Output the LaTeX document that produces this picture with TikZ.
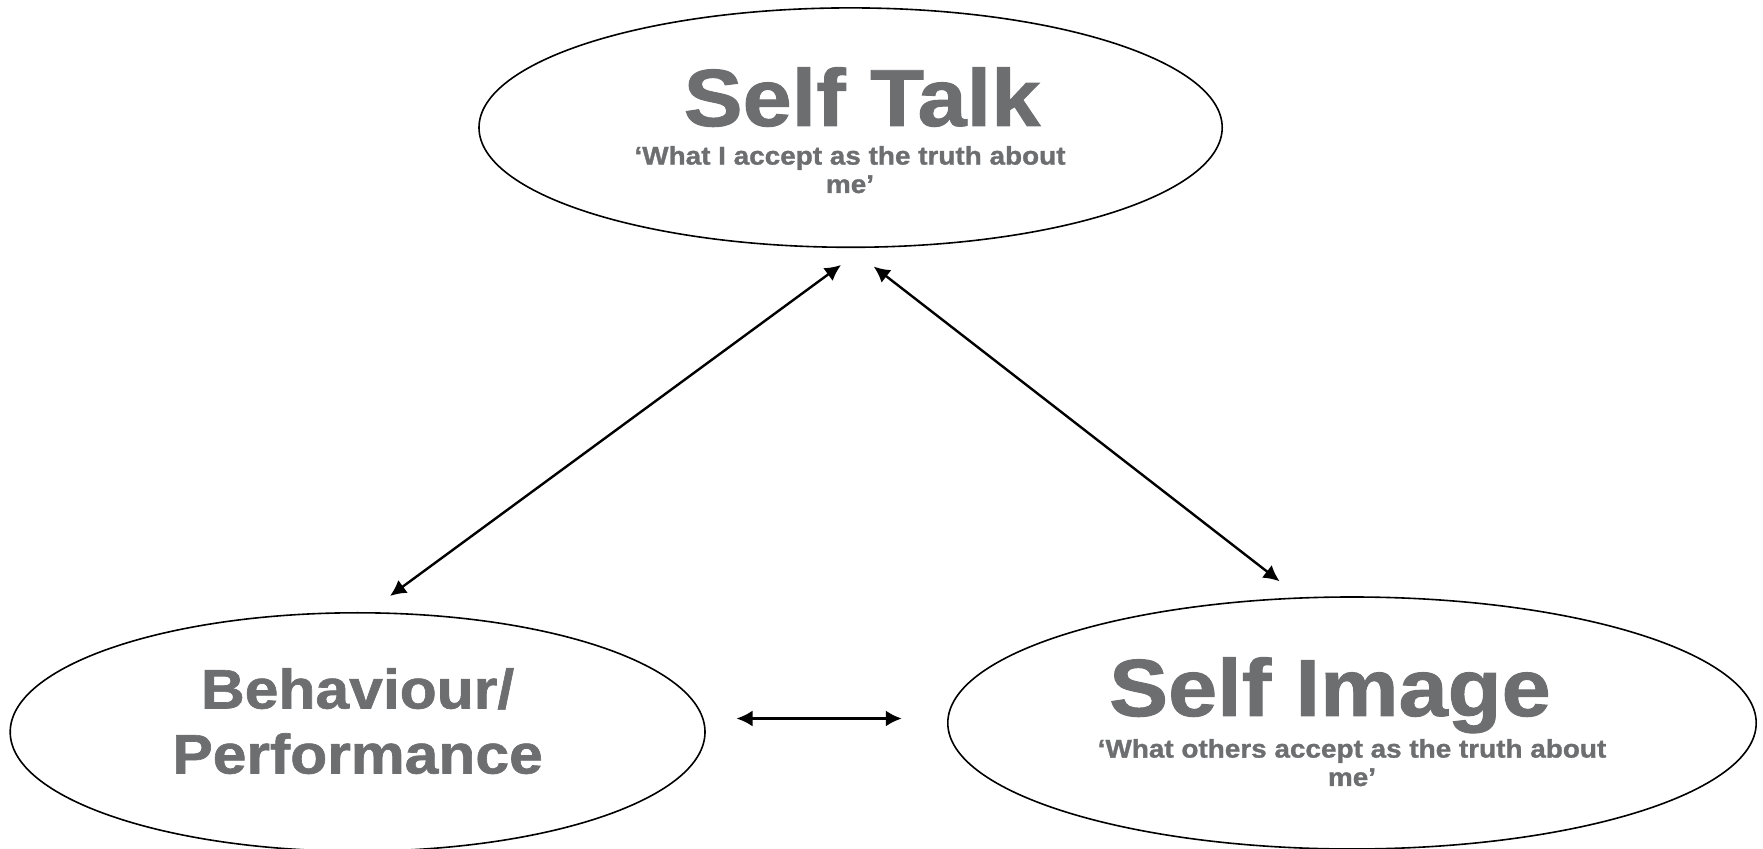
\documentclass[tikz,border=0pt]{standalone}
\usepackage{fontspec}
\setmainfont{Liberation Sans}
\newfontfamily\heavyfont{Liberation Sans Bold}[FakeStretch=1.09,FakeBold=1.2]
\usetikzlibrary{shapes.geometric,arrows.meta}
\definecolor{labelgray}{RGB}{108,110,112}
\tikzset{
  bubble/.style={draw, ellipse, line width=0.8pt, inner sep=0pt, outer sep=0pt},
  title/.style={font=\heavyfont\fontsize{40.5}{44}\selectfont, text=labelgray, anchor=base, inner sep=0pt},
  subtitle/.style={font=\heavyfont\fontsize{12.8}{14.2}\selectfont, text=labelgray, align=center, anchor=base, inner sep=0pt},
  link/.style={draw, line width=1.2pt, <->, >={Latex[length=8pt,width=8pt]}}
}
\begin{document}
\begin{tikzpicture}[x=0.5pt,y=-0.5pt]
\useasboundingbox (0,0) rectangle (1763,849);

\node[bubble, minimum width=371.6pt, minimum height=119.7pt] (talk) at (850.6,127.6) {};
\node[bubble, minimum width=347.4pt, minimum height=119.2pt] (behav) at (357.6,732) {};
\node[bubble, minimum width=404.2pt, minimum height=126pt] (image) at (1352,723) {};

\node[title] (talkname) at (862,126) {Self Talk};
\node[subtitle] (talknote) at (850,193) {‘What I accept as the truth about\\me’};
\node[title, font=\heavyfont\fontsize{27.8}{32.5}\selectfont, align=center] (behavname) at (357.6,773.5) {Behaviour/\\Performance};
\node[title] (imagename) at (1330,716) {Self Image};
\node[subtitle] (imagenote) at (1352,786) {‘What others accept as the truth about\\me’};

\coordinate (tl) at (841,265);
\coordinate (bl) at (390,596);
\coordinate (tr) at (873.7,266.5);
\coordinate (br) at (1279.6,581.3);
\coordinate (ml) at (736.5,718.5);
\coordinate (mr) at (901.8,718.5);

\path[link] (tl) -- (bl);
\path[link] (tr) -- (br);
\path[link] (ml) -- (mr);
\end{tikzpicture}
\end{document}
